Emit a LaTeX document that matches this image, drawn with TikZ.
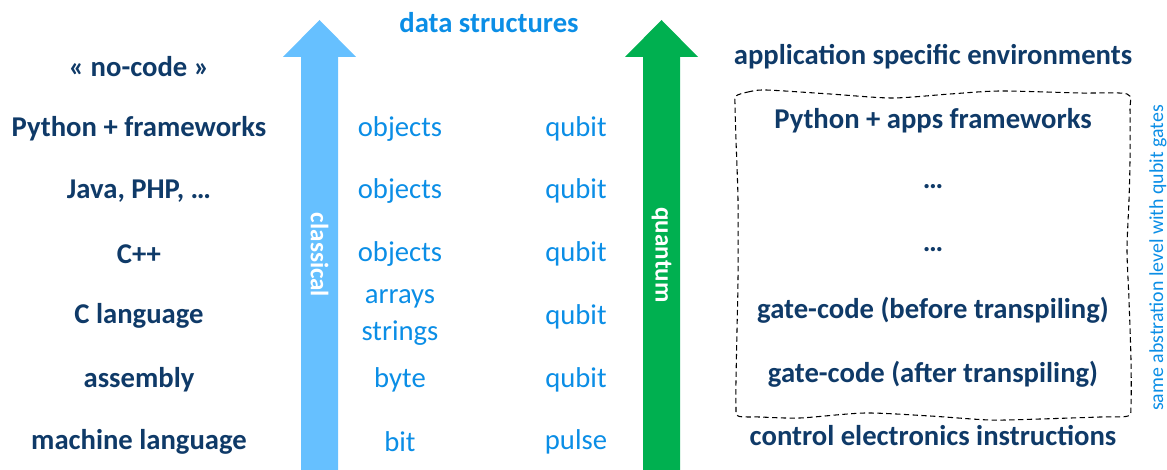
\documentclass[tikz,border=0pt]{standalone}
\usepackage{fontspec}
\setmainfont{Carlito}
\definecolor{navy}{HTML}{0F3A68}
\definecolor{skytext}{HTML}{0B8EE6}
\definecolor{skyarrow}{HTML}{66C0FF}
\definecolor{qgreen}{HTML}{00B050}
\tikzset{
  lvl/.style={font=\fontsize{21.5}{24}\selectfont\bfseries, text=navy, inner sep=0pt, anchor=center},
  dat/.style={font=\fontsize{21.5}{24}\selectfont, text=skytext, inner sep=0pt, anchor=center, align=center},
  bartext/.style={font=\fontsize{18.8}{22}\selectfont\bfseries, text=white, rotate=-90, inner sep=0pt},
}
\begin{document}
\begin{tikzpicture}[x=0.75pt,y=-0.75pt]
\useasboundingbox (0,0) rectangle (1167,470);

% upward arrows
\fill[skyarrow] (301,470) -- (301,57) -- (283,57) -- (319.5,20) -- (356,57) -- (338,57) -- (338,470) -- cycle;
\fill[qgreen] (643,470) -- (643,57) -- (625,57) -- (661.5,20) -- (698,57) -- (680,57) -- (680,470) -- cycle;
\node[bartext] (classical) at (319.5,255) {classical};
\node[bartext] (quantum) at (661.5,255) {quantum};

% heading
\node[dat, font=\fontsize{21.5}{24}\selectfont\bfseries] (ds) at (489,23) {data structures};

% classical levels
\node[lvl] (nocode) at (139,67) {« no-code »};
\node[lvl] (py) at (139,129) {Python + frameworks};
\node[lvl] (java) at (139,191) {Java, PHP, …};
\node[lvl] (cpp) at (139,254) {C++};
\node[lvl] (clang) at (139,316) {C language};
\node[lvl] (asm) at (139,380) {assembly};
\node[lvl] (mach) at (139,442) {machine language};

% classical data
\node[dat] (o1) at (400,129) {objects};
\node[dat] (o2) at (400,191) {objects};
\node[dat] (o3) at (400,254) {objects};
\node[dat] (arr) at (400,299) {arrays};
\node[dat] (str) at (400,333) {strings};
\node[dat] (byte) at (400,380) {byte};
\node[dat] (bit) at (400,442) {bit};

% quantum data
\node[dat] (q1) at (576,129) {qubit};
\node[dat] (q2) at (576,191) {qubit};
\node[dat] (q3) at (576,254) {qubit};
\node[dat] (q4) at (576,317) {qubit};
\node[dat] (q5) at (576,380) {qubit};
\node[dat] (pulse) at (576,442) {pulse};

% quantum levels
\node[lvl] (app) at (933,57) {application specific environments};
\node[lvl] (pyq) at (933,121) {Python + apps frameworks};
\node[lvl] (d1) at (933,187) {…};
\node[lvl] (d2) at (933,250) {…};
\node[lvl] (gb) at (933,310) {gate-code (before transpiling)};
\node[lvl] (ga) at (933,374) {gate-code (after transpiling)};
\node[lvl] (ctrl) at (933,436) {control electronics instructions};

% hand-drawn dashed frame
\draw[line width=0.8pt, dash pattern=on 4pt off 2.6pt]
  plot[smooth cycle, tension=0.45] coordinates {
    (736,96) (748,92) (766,90) (830,94) (892,98) (950,94) (1000,91) (1080,93) (1127,94)
    (1130,110) (1130,160) (1129,200) (1127,250) (1129,300) (1131,360) (1131,405)
    (1128,416) (1100,417) (1040,419) (990,420) (930,416) (865,413) (800,418) (760,417) (738,416)
    (736,405) (736,380) (737,330) (738,280) (738,200) (736,140) (735,105)
  };

\node[dat, font=\fontsize{14.9}{17}\selectfont, rotate=90] (same) at (1158,258) {same abstration level with qubit gates};
\end{tikzpicture}
\end{document}
